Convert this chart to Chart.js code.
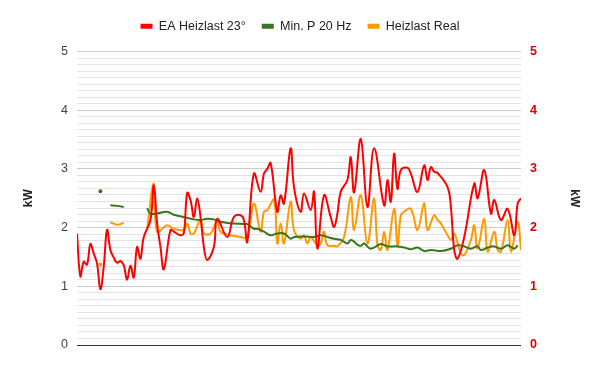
<!DOCTYPE html>
<html>
<head>
<meta charset="utf-8">
<script src="https://cdn.jsdelivr.net/npm/chart.js@4.4.1/dist/chart.umd.min.js"></script>
<style>
html,body{margin:0;padding:0;background:#fff;}
#wrap{width:600px;height:371px;position:relative;}
</style>
</head>
<body>
<div id="wrap"><canvas id="c" width="600" height="371"></canvas></div>
<script>
// ---- data (day index, value in kW) ----
const seriesNames = ["EA Heizlast 23°", "Min. P 20 Hz", "Heizlast Real"];
const yTickLabels = [0, 1, 2, 3, 4, 5];

const redDays = [0,1,2,3,4,5,6,7,8,9,10,11,12,13,14,15,16,17,18,19,20,22,23,24,25,26,28,29,31,32,33,34,35,36,37,38,39,41,42,45,47,49,50,51,53,55,56,57,58,60,61,62,64,65,67,68,70,71,72,74,76,77,78,79,81,82,83,85,87,89,92,93,94,95,96,97,99,100,102,104,105,106,107,108,111,112,113,114,116,119,120,122,124,125,127,129,131,132,133];
const redValues = [1.90,1.17,1.42,1.37,1.72,1.56,1.39,0.95,1.33,1.96,1.62,1.49,1.40,1.43,1.36,1.11,1.35,1.15,1.67,1.47,1.84,2.13,2.72,2.07,1.67,1.29,1.96,1.93,1.87,1.91,2.59,2.47,2.18,2.50,2.18,1.67,1.45,1.67,2.15,1.84,2.18,2.21,2.13,1.76,2.92,2.61,2.92,3.00,3.10,2.27,2.55,2.41,3.35,2.69,2.27,2.58,2.30,2.61,1.64,2.55,2.18,2.01,2.24,2.61,2.81,3.20,2.60,3.51,2.35,3.35,2.38,2.81,2.44,3.26,2.66,2.98,3.02,2.92,2.61,3.06,2.81,3.03,2.95,2.93,2.69,2.35,1.62,1.47,1.84,2.75,2.50,2.98,2.24,2.47,2.13,2.32,1.87,2.41,2.50];

const greenDays = [7,8,10,12,14,15,21,22,24,27,29,32,35,37,39,41,43,45,47,50,51,53,54,56,58,60,62,64,65,68,71,73,75,77,79,81,82,83,84,85,86,88,91,93,96,98,100,102,104,106,109,112,114,116,118,120,121,123,125,127,129,131,132];
const greenValues = [2.62,null,2.38,2.37,2.35,null,2.33,2.24,2.24,2.27,2.22,2.18,2.14,2.13,2.15,2.14,2.10,2.08,2.07,2.06,2.06,1.98,1.98,1.93,1.87,1.90,1.90,1.81,1.84,1.85,1.84,1.87,1.84,1.81,1.79,1.73,1.79,1.76,1.71,1.69,1.73,1.64,1.72,1.68,1.68,1.66,1.63,1.66,1.60,1.62,1.60,1.64,1.70,1.68,1.64,1.68,1.62,1.66,1.68,1.64,1.70,1.64,1.70];

const orangeDays = [7,8,10,12,14,15,21,23,24,27,29,32,33,34,35,37,38,40,42,43,46,49,51,53,55,56,57,59,60,61,62,64,65,67,68,69,70,72,73,74,75,77,78,80,82,83,85,87,89,90,91,92,93,95,96,97,98,100,102,104,105,107,108,109,111,112,113,115,116,118,119,120,122,123,125,126,127,129,130,132,133];
const orangeValues = [1.37,null,2.09,2.05,2.08,null,1.98,2.75,1.93,2.04,1.98,1.96,2.07,1.90,1.90,2.13,1.90,1.90,2.12,1.93,1.87,1.84,1.84,2.41,1.93,2.27,2.30,2.47,1.73,2.07,1.73,2.44,1.96,1.81,1.87,1.73,1.84,1.70,1.73,1.93,1.70,1.69,1.68,1.84,2.52,1.96,2.55,1.73,2.50,1.70,1.62,1.93,1.62,2.32,1.68,2.21,2.27,2.32,1.96,2.42,1.96,2.21,2.13,2.07,1.87,1.79,1.90,1.56,1.53,1.79,2.04,1.64,2.15,1.59,1.93,1.62,1.59,2.13,1.59,2.10,1.62];

const colors = ["#ff0000", "#38761d", "#ff9900"];

function pts(days, vals) { return days.map((d, i) => ({ x: d, y: vals[i] })); }

function isolatedRadius(ctx) {
  const data = ctx.dataset.data, i = ctx.dataIndex;
  if (!data[i] || data[i].y == null) return 0;
  const prev = data[i - 1], next = data[i + 1];
  const pNull = !prev || prev.y == null, nNull = !next || next.y == null;
  return (pNull && nNull) ? 2 : 0;
}

function mkSet(label, days, vals, color) {
  return {
    label: label,
    data: pts(days, vals),
    borderColor: color,
    backgroundColor: color,
    borderWidth: 2,
    tension: 0.4,
    spanGaps: false,
    pointRadius: isolatedRadius,
    pointHoverRadius: 0,
    pointBorderWidth: 0,
    yAxisID: 'y'
  };
}

const minorSteps = 9;
function buildTicks(scale) {
  const t = [];
  for (let i = 0; i <= 5 * minorSteps; i++) t.push({ value: i / minorSteps });
  scale.ticks = t;
}
function isMajor(v) { return Math.abs(v - Math.round(v)) < 1e-6; }
function intLabel(v) {
  if (!isMajor(v)) return '';
  const r = Math.round(v);
  return yTickLabels.includes(r) ? String(r) : '';
}

const legendSpacer = {
  id: 'legendSpacer',
  beforeUpdate(chart) {
    const lg = chart.legend;
    if (lg && !lg._patched) {
      const orig = lg.fit;
      lg.fit = function () { orig.call(this); this.height += 9; };
      lg._patched = true;
    }
  }
};

const FONT = 'Liberation Sans, Arial, sans-serif';

new Chart(document.getElementById('c'), {
  type: 'line',
  data: {
    datasets: [
      mkSet(seriesNames[0], redDays, redValues, colors[0]),
      mkSet(seriesNames[1], greenDays, greenValues, colors[1]),
      mkSet(seriesNames[2], orangeDays, orangeValues, colors[2])
    ]
  },
  plugins: [legendSpacer],
  options: {
    responsive: false,
    animation: false,
    devicePixelRatio: 1,
    layout: { padding: { top: 4, bottom: 26, left: 0, right: 0 } },
    plugins: {
      tooltip: { enabled: false },
      legend: {
        position: 'top',
        align: 'center',
        labels: {
          boxWidth: 12,
          boxHeight: 5,
          padding: 16,
          color: '#222',
          font: { family: FONT, size: 12.5 },
          generateLabels(chart) {
            return chart.data.datasets.map((ds, i) => ({
              text: ds.label, fillStyle: ds.borderColor, strokeStyle: ds.borderColor,
              lineWidth: 0, hidden: false, datasetIndex: i, fontColor: '#222'
            }));
          }
        }
      }
    },
    scales: {
      x: {
        type: 'linear', min: 0, max: 133, display: false
      },
      y: {
        position: 'left', min: 0, max: 5,
        afterBuildTicks: buildTicks,
        afterFit(scale) { scale.width = 77; },
        border: { display: false },
        grid: {
          drawTicks: false,
          color(ctx) {
            const v = ctx.tick ? ctx.tick.value : 0;
            if (Math.abs(v) < 1e-6) return '#333333';
            return isMajor(v) ? '#cccccc' : '#e3e3e3';
          },
          lineWidth: 1
        },
        ticks: {
          autoSkip: false, padding: 9, color: '#444444',
          font: { family: FONT, size: 12.5 },
          callback: (v) => intLabel(v)
        },
        title: {
          display: true, text: 'kW', color: '#222',
          font: { family: FONT, size: 12, weight: 'bold' },
          padding: { top: 21, bottom: 0 }
        }
      },
      y2: {
        position: 'right', min: 0, max: 5,
        afterBuildTicks: buildTicks,
        afterFit(scale) { scale.width = 79; },
        border: { display: false },
        grid: { display: false, drawTicks: false },
        ticks: {
          autoSkip: false, padding: 9, color: '#e00000',
          font: { family: FONT, size: 12.5, weight: 'bold' },
          callback: (v) => intLabel(v)
        },
        title: {
          display: true, text: 'kW', color: '#222',
          font: { family: FONT, size: 12, weight: 'bold' },
          padding: { top: 18, bottom: 0 }
        }
      }
    }
  }
});
</script>
</body>
</html>
